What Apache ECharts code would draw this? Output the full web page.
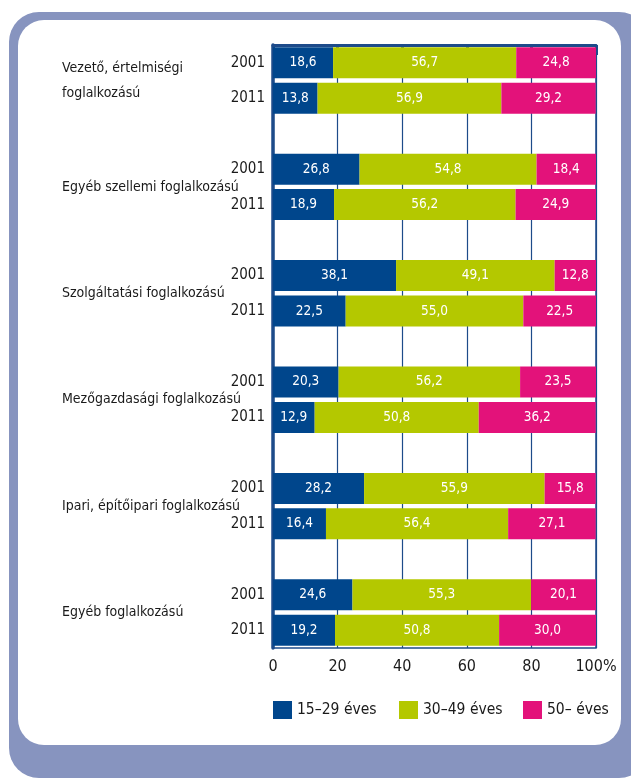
<!DOCTYPE html>
<html>
<head>
<meta charset="utf-8">
<script src="https://cdn.jsdelivr.net/npm/echarts@6/dist/echarts.min.js"></script>
<style>html,body{margin:0;padding:0;background:#fff;}#c{width:631px;height:778px;}</style>
</head>
<body>
<div id="c"></div>
<script>
const groups = ['Vezető, értelmiségi\nfoglalkozású', 'Egyéb szellemi foglalkozású', 'Szolgáltatási foglalkozású', 'Mezőgazdasági foglalkozású', 'Ipari, építőipari foglalkozású', 'Egyéb foglalkozású'];
const years = ['2001', '2011'];
const seriesNames = ['15–29 éves', '30–49 éves', '50– éves'];
// values per group: [2001, 2011]
const young = [[18.6, 13.8], [26.8, 18.9], [38.1, 22.5], [20.3, 12.9], [28.2, 16.4], [24.6, 19.2]];
const middle = [[56.7, 56.9], [54.8, 56.2], [49.1, 55.0], [56.2, 50.8], [55.9, 56.4], [55.3, 50.8]];
const old = [[24.8, 29.2], [18.4, 24.9], [12.8, 22.5], [23.5, 36.2], [15.8, 27.1], [20.1, 30.0]];
const xTicks = [0, 20, 40, 60, 80, 100];

const colors = ['#00468c', '#b4c800', '#e3127a'];
const FONT = "'DejaVu Sans Condensed', 'Liberation Sans Narrow', sans-serif";
const TXT = '#1a1a1a';

// build 17 category rows (2001, 2011, gap ...)
const cats = [];
groups.forEach((g, i) => {
  years.forEach(y => cats.push(y));
  if (i < groups.length - 1) cats.push('');
});
function rows(arr) {
  const out = [];
  arr.forEach((pair, i) => {
    pair.forEach(v => out.push(v));
    if (i < arr.length - 1) out.push('-');
  });
  return out;
}
const groupLabelAt = {};
groups.forEach((g, i) => { groupLabelAt[i * 3 + 1] = g; });

const chart = echarts.init(document.getElementById('c'), null, {renderer: 'canvas'});
const frame = '#8794bf';
const axisBlue = '#1d4b8a';

const series = [young, middle, old].map((d, k) => ({
  name: seriesNames[k],
  type: 'bar',
  stack: 'all',
  yAxisIndex: 0,
  barWidth: 31,
  itemStyle: {color: colors[k]},
  label: {
    show: true, position: 'inside', color: '#fff', fontFamily: FONT, fontSize: 13.5,
    formatter: p => p.value.toFixed(1).replace('.', ',')
  },
  data: rows(d)
}));

chart.setOption({
  animation: false,
  textStyle: {fontFamily: FONT},
  graphic: [
    {type: 'rect', z: -100, shape: {x: 9, y: 12, width: 640, height: 766, r: 30}, style: {fill: frame}},
    {type: 'rect', z: -99, shape: {x: 18, y: 20, width: 603, height: 725, r: 26}, style: {fill: '#ffffff'}}
  ],
  grid: {left: 273, right: 35, top: 45, bottom: 130, show: true, borderColor: axisBlue, borderWidth: 1.5},
  legend: seriesNames.map((n, k) => ({
    data: [n], left: [273, 399, 523][k], top: 701, padding: 0, itemWidth: 19, itemHeight: 18, icon: 'rect',
    textStyle: {fontFamily: FONT, fontSize: 15.5, color: TXT}, selectedMode: false
  })),
  xAxis: {
    type: 'value', min: 0, max: 100, interval: 20,
    axisLine: {show: true, lineStyle: {color: axisBlue, width: 3}},
    axisTick: {show: true, length: 10, lineStyle: {color: axisBlue, width: 3}},
    splitLine: {show: true, lineStyle: {color: axisBlue, width: 1.2}},
    axisLabel: {
      color: TXT, fontFamily: FONT, fontSize: 16, margin: 11,
      formatter: v => (xTicks.indexOf(v) >= 0 ? (v === 100 ? '100%' : String(v)) : '')
    }
  },
  yAxis: [
    {
      type: 'category', data: cats, inverse: true,
      axisLine: {show: true, lineStyle: {color: axisBlue, width: 3.5}},
      axisTick: {show: false},
      axisLabel: {color: TXT, fontFamily: FONT, fontSize: 15, margin: 8, interval: 0}
    },
    {
      type: 'value', min: 0, max: 17, interval: 1, inverse: true, position: 'left',
      axisLine: {show: false}, axisTick: {show: false}, splitLine: {show: false},
      axisLabel: {
        align: 'left', margin: 211, color: TXT, fontFamily: FONT, fontSize: 14, lineHeight: 25,
        showMinLabel: true, showMaxLabel: true,
        formatter: v => groupLabelAt[v] || ''
      }
    }
  ],
  series: series
});
</script>
</body>
</html>
